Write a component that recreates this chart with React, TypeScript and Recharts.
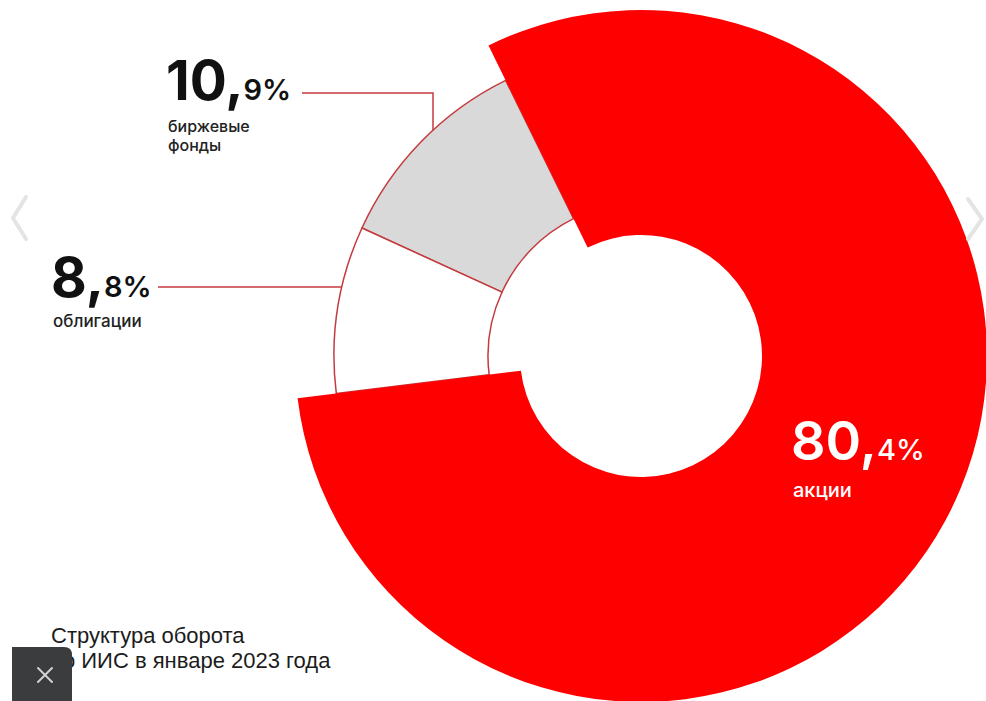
import React from "react";
import { PieChart, Pie, Cell } from "recharts";

const categories = ["акции", "биржевые фонды", "облигации"];
const shares = [80.4, 10.9, 8.8];
const bigParts = ["80,", "10,", "8,"];
const smallParts = ["4%", "9%", "8%"];
const etfLines = ["биржевые", "фонды"];
const titleLines = ["Структура оборота", "по ИИС в январе 2023 года"];

const data = categories.map((name, i) => ({ name, value: shares[i] }));

const RED = "#ff0000";
const GRAY = "#d9d9d9";
const LINE = "#c33b3f";
const FONT = "Inter, 'Noto Sans', sans-serif";

export default function App() {
  return (
    <div style={{ position: "absolute", left: 0, top: 0, width: 986, height: 701, background: "#fff", overflow: "hidden" }}>
      <PieChart width={986} height={701} margin={{ top: 0, right: 0, bottom: 0, left: 0 }}>
        <Pie
          data={data}
          dataKey="value"
          cx={641}
          cy={356}
          innerRadius={153}
          outerRadius={307}
          startAngle={-173}
          endAngle={187}
          isAnimationActive={false}
          label={false}
          labelLine={false}
        >
          <Cell fill="transparent" stroke="none" />
          <Cell fill={GRAY} stroke={LINE} strokeWidth={1.5} />
          <Cell fill="#ffffff" stroke={LINE} strokeWidth={1.5} />
        </Pie>
        <Pie
          data={data}
          dataKey="value"
          cx={641}
          cy={356}
          innerRadius={121}
          outerRadius={346}
          startAngle={-173}
          endAngle={187}
          isAnimationActive={false}
          label={false}
          labelLine={false}
        >
          <Cell fill={RED} stroke="none" />
          <Cell fill="transparent" stroke="none" />
          <Cell fill="transparent" stroke="none" />
        </Pie>
      </PieChart>
      <svg width={986} height={701} style={{ position: "absolute", left: 0, top: 0, pointerEvents: "none" }}>
        {/* leader lines */}
        <polyline points="302,93 433,93 433,130" fill="none" stroke={LINE} strokeWidth={1.5} />
        <line x1={158} y1={287} x2={342} y2={287} stroke={LINE} strokeWidth={1.5} />

        {/* 10,9% */}
        <text x={166} y={100} fontFamily={FONT} fill="#111">
          <tspan fontSize={55} fontWeight={700}>{bigParts[1]}</tspan>
          <tspan fontSize={29} fontWeight={600}>{smallParts[1]}</tspan>
        </text>
        <text x={168} y={132} fontFamily={FONT} fontSize={16} fontWeight={500} fill="#222">{etfLines[0]}</text>
        <text x={168} y={151} fontFamily={FONT} fontSize={16} fontWeight={500} fill="#222">{etfLines[1]}</text>

        {/* 8,8% */}
        <text x={51} y={297} fontFamily={FONT} fill="#111">
          <tspan fontSize={55} fontWeight={700}>{bigParts[2]}</tspan>
          <tspan fontSize={29} fontWeight={600}>{smallParts[2]}</tspan>
        </text>
        <text x={53} y={327} fontFamily={FONT} fontSize={17} fontWeight={500} fill="#222">{categories[2]}</text>

        {/* 80,4% */}
        <text x={791} y={460} fontFamily={FONT} fill="#fff">
          <tspan fontSize={54} fontWeight={600}>{bigParts[0]}</tspan>
          <tspan fontSize={29} fontWeight={500}>{smallParts[0]}</tspan>
        </text>
        <text x={793} y={497} fontFamily={FONT} fontSize={20} fontWeight={500} fill="#fff">{categories[0]}</text>

        {/* title */}
        <text x={51} y={643} fontFamily="'Liberation Sans', Arial, sans-serif" fontSize={22} fill="#1c1c1c">{titleLines[0]}</text>
        <text x={51} y={668} fontFamily="'Liberation Sans', Arial, sans-serif" fontSize={22} fill="#1c1c1c">{titleLines[1]}</text>

        {/* nav chevrons */}
        <polyline points="26,197 13,218 26,239" fill="none" stroke="#e4e4e4" strokeWidth={4} strokeLinecap="round" strokeLinejoin="round" />
        <polyline points="968,199 982,219 968,239" fill="none" stroke="#e4e4e4" strokeWidth={4} strokeLinecap="round" strokeLinejoin="round" />

        {/* close button */}
        <path d="M12,647 H64 Q72,647 72,655 V701 H12 Z" fill="#3b3c3e" />
        <line x1={38} y1={668} x2={52} y2={682} stroke="#d0d0d0" strokeWidth={2} strokeLinecap="round" />
        <line x1={52} y1={668} x2={38} y2={682} stroke="#d0d0d0" strokeWidth={2} strokeLinecap="round" />
      </svg>
    </div>
  );
}
